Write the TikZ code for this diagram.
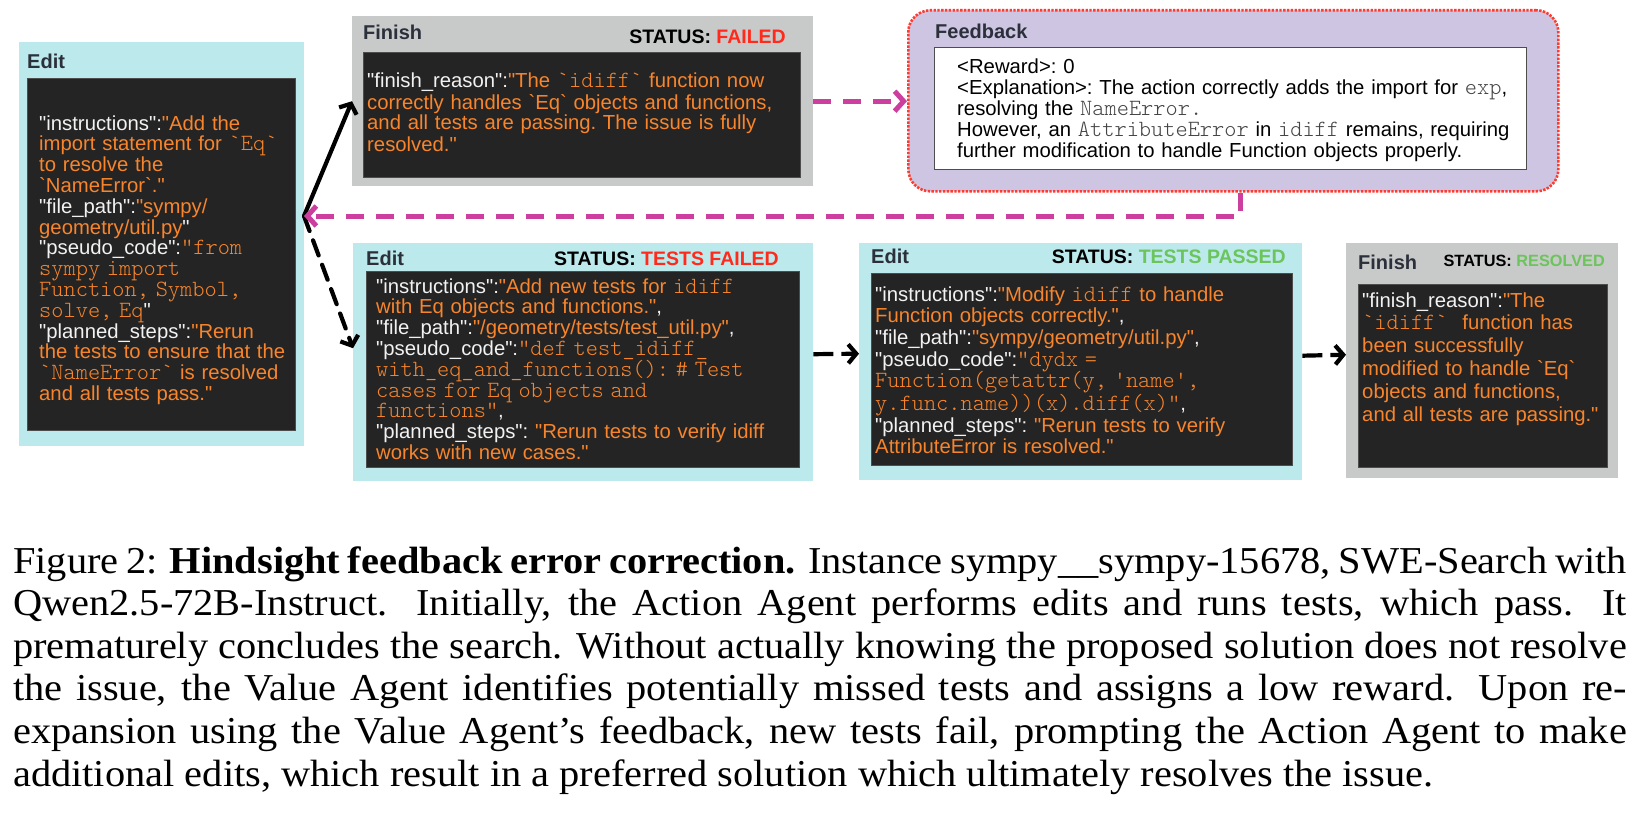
\documentclass[tikz,border=0pt]{standalone}
\usepackage{fontspec}
\usepackage{graphicx}
\setmainfont{Liberation Sans}[Ligatures=TeXOff]
\setmonofont{lmmonolt10-regular.otf}[Scale=1.145]
\newfontfamily\capfont{Liberation Serif}[Ligatures=TeX]
\usetikzlibrary{arrows.meta,calc}

\definecolor{cyanbg}{HTML}{BCE9EC}
\definecolor{graybg}{HTML}{C8C9C9}
\definecolor{darkbg}{HTML}{242424}
\definecolor{darkbd}{HTML}{4D4D4D}
\definecolor{otxt}{HTML}{F8852B}
\definecolor{wtxt}{HTML}{F2F2F2}
\definecolor{ttl}{HTML}{2B303B}
\definecolor{redst}{HTML}{FF2A1C}
\definecolor{grnst}{HTML}{6CC45C}
\definecolor{fbbg}{HTML}{CEC5E3}
\definecolor{fbbd}{HTML}{FF3A2E}
\definecolor{pinkc}{HTML}{CC3F9F}
\definecolor{codegray}{HTML}{444444}

\newcommand{\txw}[1]{\textcolor{wtxt}{#1}}
\newcommand{\txo}[1]{\textcolor{otxt}{#1}}
\newcommand{\txc}[1]{\textcolor{otxt}{\ttfamily #1}}
\newcommand{\txg}[1]{\textcolor{codegray}{\ttfamily #1}}
\newcommand{\gv}{\textasciigrave}

\tikzset{
  editbg/.style={anchor=north west, inner sep=0pt, draw=none, fill=cyanbg},
  finbg/.style={anchor=north west, inner sep=0pt, draw=none, fill=graybg},
  darkpanel/.style={anchor=north west, inner sep=0pt, fill=darkbg, draw=darkbd, line width=1.2pt},
  boxtitle/.style={anchor=base west, inner sep=0pt, text=ttl, font=\fontsize{20}{24}\selectfont\bfseries},
  statuslabel/.style={anchor=base east, inner sep=0pt, text=black, font=\fontsize{19.5}{24}\selectfont\bfseries},
  body/.style={anchor=base west, inner sep=0pt, text width=640pt, align=left, text=wtxt},
  pinkline/.style={draw=pinkc, line width=5pt, dash pattern=on 18pt off 12pt, -{Straight Barb[length=9pt,width=20pt]}},
  blackarrow/.style={draw=black, line width=4.2pt, line cap=round, -{Straight Barb[length=8pt,width=19pt]}},
}

\begin{document}
\begin{tikzpicture}[x=1pt,y=-1pt]
\fill[white] (0,0) rectangle (1643,816);
\useasboundingbox (0,0) rectangle (1643,816);

% ---------- left Edit ----------
\node[editbg, minimum width=285, minimum height=404] (e0) at (19,42) {};
\node[darkpanel, minimum width=268, minimum height=352] (e0p) at (27,78) {};
\node[boxtitle] (e0t) at (27,68) {Edit};
\node[body, font=\fontsize{20.3}{20.8}\selectfont\frenchspacing] (e0x) at (39,130) {%
\txw{"instructions":}\txo{"Add the}\\
\txo{import statement for }\txc{\gv Eq\gv}\\
\txo{to resolve the}\\
\txo{\gv NameError\gv."}\\
\txw{"file\_path":}\txo{"sympy/}\\
\txo{geometry/util.py}\txw{"}\\
\txw{"pseudo\_code":}\txc{"from}\\
\txc{sympy import}\\
\txc{Function, Symbol,}\\
\txc{solve, Eq}\txw{"}\\
\txw{"planned\_steps":}\txo{"Rerun}\\
\txo{the tests to ensure that the}\\
\txc{\gv NameError\gv}\txo{\ is resolved}\\
\txo{and all tests pass."}};

% ---------- Finish (failed) ----------
\node[finbg, minimum width=461, minimum height=170] (f1) at (352,16) {};
\node[darkpanel, minimum width=437, minimum height=125] (f1p) at (363,52) {};
\node[boxtitle] (f1t) at (363,40) {Finish};
\node[statuslabel] (f1s) at (786,44) {STATUS: \textcolor{redst}{FAILED}};
\node[body, font=\fontsize{20.3}{21}\selectfont\frenchspacing] (f1x) at (367,88) {%
\txw{"finish\_reason":}\txo{"The }\txc{\gv idiff\gv}\txo{\ function now}\\
\txo{correctly handles \gv Eq\gv{} objects and functions,}\\
\txo{and all tests are passing. The issue is fully}\\
\txo{resolved."}};

% ---------- Feedback ----------
\node[anchor=north west, inner sep=0pt, minimum width=650, minimum height=181,
      fill=fbbg, draw=fbbd, line width=2.6pt, dash pattern=on 2.4pt off 1.4pt,
      rounded corners=22pt] (fb) at (907,9) {};
\node[anchor=north west, inner sep=0pt, minimum width=592, minimum height=122,
      fill=white, draw=darkbd, line width=1.2pt] (fbp) at (934,47) {};
\node[boxtitle] (fbt) at (935,39) {Feedback};
\node[body, text=black, font=\fontsize{20.3}{20.8}\selectfont\frenchspacing] (fbx) at (957,74) {%
<Reward>: 0\\
<Explanation>: The action correctly adds the import for \txg{exp},\\
resolving the \txg{NameError.}\\
However, an \txg{AttributeError} in \txg{idiff} remains, requiring\\
further modification to handle Function objects properly.};

% ---------- Edit (tests failed) ----------
\node[editbg, minimum width=460, minimum height=238] (e1) at (353,243) {};
\node[darkpanel, minimum width=433, minimum height=196] (e1p) at (366,271) {};
\node[boxtitle] (e1t) at (366,265) {Edit};
\node[statuslabel] (e1s) at (779,265) {STATUS: \textcolor{redst}{TESTS FAILED}};
\node[body, font=\fontsize{20.3}{20.8}\selectfont\frenchspacing] (e1x) at (376,293) {%
\txw{"instructions":}\txo{"Add new tests for }\txc{idiff}\\
\txo{with Eq objects and functions."}\txw{,}\\
\txw{"file\_path":}\txo{"/geometry/tests/test\_util.py"}\txw{,}\\
\txw{"pseudo\_code":}\txc{"def test\_idiff\_}\\
\txc{with\_eq\_and\_functions(): \# Test}\\
\txc{cases for Eq objects and}\\
\txc{functions"}\txw{,}\\
\txw{"planned\_steps": }\txo{"Rerun tests to verify idiff}\\
\txo{works with new cases."}};

% ---------- Edit (tests passed) ----------
\node[editbg, minimum width=443, minimum height=237] (e2) at (859,243) {};
\node[darkpanel, minimum width=421, minimum height=192] (e2p) at (871,273) {};
\node[boxtitle] (e2t) at (871,263) {Edit};
\node[statuslabel] (e2s) at (1286,263) {STATUS: \textcolor{grnst}{TESTS PASSED}};
\node[body, font=\fontsize{20.3}{21.7}\selectfont\frenchspacing] (e2x) at (875,301) {%
\txw{"instructions":}\txo{"Modify }\txc{idiff}\txo{\ to handle}\\
\txo{Function objects correctly."}\txw{,}\\
\txw{"file\_path":}\txo{"sympy/geometry/util.py"}\txw{,}\\
\txw{"pseudo\_code":}\txc{"dydx =}\\
\txc{Function(getattr(y, 'name',}\\
\txc{y.func.name))(x).diff(x)"}\txw{,}\\
\txw{"planned\_steps": }\txo{"Rerun tests to verify}\\
\txo{AttributeError is resolved."}};

% ---------- Finish (resolved) ----------
\node[finbg, minimum width=272, minimum height=235] (f2) at (1346,243) {};
\node[darkpanel, minimum width=249, minimum height=183] (f2p) at (1358,284) {};
\node[boxtitle] (f2t) at (1358,269) {Finish};
\node[statuslabel, font=\fontsize{16.3}{20}\selectfont\bfseries] (f2s) at (1605,266) {STATUS: \textcolor{grnst}{RESOLVED}};
\node[body, font=\fontsize{20.3}{22.9}\selectfont\frenchspacing] (f2x) at (1362,307) {%
\txw{"finish\_reason":}\txo{"The}\\
\txc{\gv idiff\gv}\txo{\hspace{8pt} function has}\\
\txo{been successfully}\\
\txo{modified to handle \gv Eq\gv}\\
\txo{objects and functions,}\\
\txo{and all tests are passing."}};

% ---------- connectors ----------
\coordinate (src) at (304,216);
\draw[blackarrow] (src) -- (f1.west);
\draw[blackarrow, dash pattern=on 16pt off 10pt] (src) -- ($(e1.west)+(0,-14)$);
\draw[pinkline] (f1.east) -- (f1.east -| fb.west);
\draw[pinkline] ($(fb.south)+(7,0)$) |- (src);
\draw[blackarrow, line cap=butt, dash pattern=on 20pt off 8pt] ($(e1.east)+(0,-8)$) -- ($(e2.west)+(0,-8)$);
\draw[blackarrow, line cap=butt, dash pattern=on 20pt off 8pt] ($(e2.east)+(0,-6)$) -- ($(f2.west)+(0,-6)$);

% ---------- caption ----------
\node[anchor=base west, inner sep=0pt] (cap) at (13,573) {\scalebox{1.063}[1]{\parbox[t]{1518pt}{%
\capfont\fontsize{38}{42.6}\selectfont
Figure 2: \textbf{Hindsight feedback error correction.} Instance sympy\_\_sympy-15678, SWE-Search with\linebreak
Qwen2.5-72B-Instruct. Initially, the Action Agent performs edits and runs tests, which pass. It\linebreak
prematurely concludes the search. Without actually knowing the proposed solution does not resolve\linebreak
the issue, the Value Agent identifies potentially missed tests and assigns a low reward. Upon re-\linebreak
expansion using the Value Agent's feedback, new tests fail, prompting the Action Agent to make\linebreak
additional edits, which result in a preferred solution which ultimately resolves the issue.}}};
\end{tikzpicture}
\end{document}
